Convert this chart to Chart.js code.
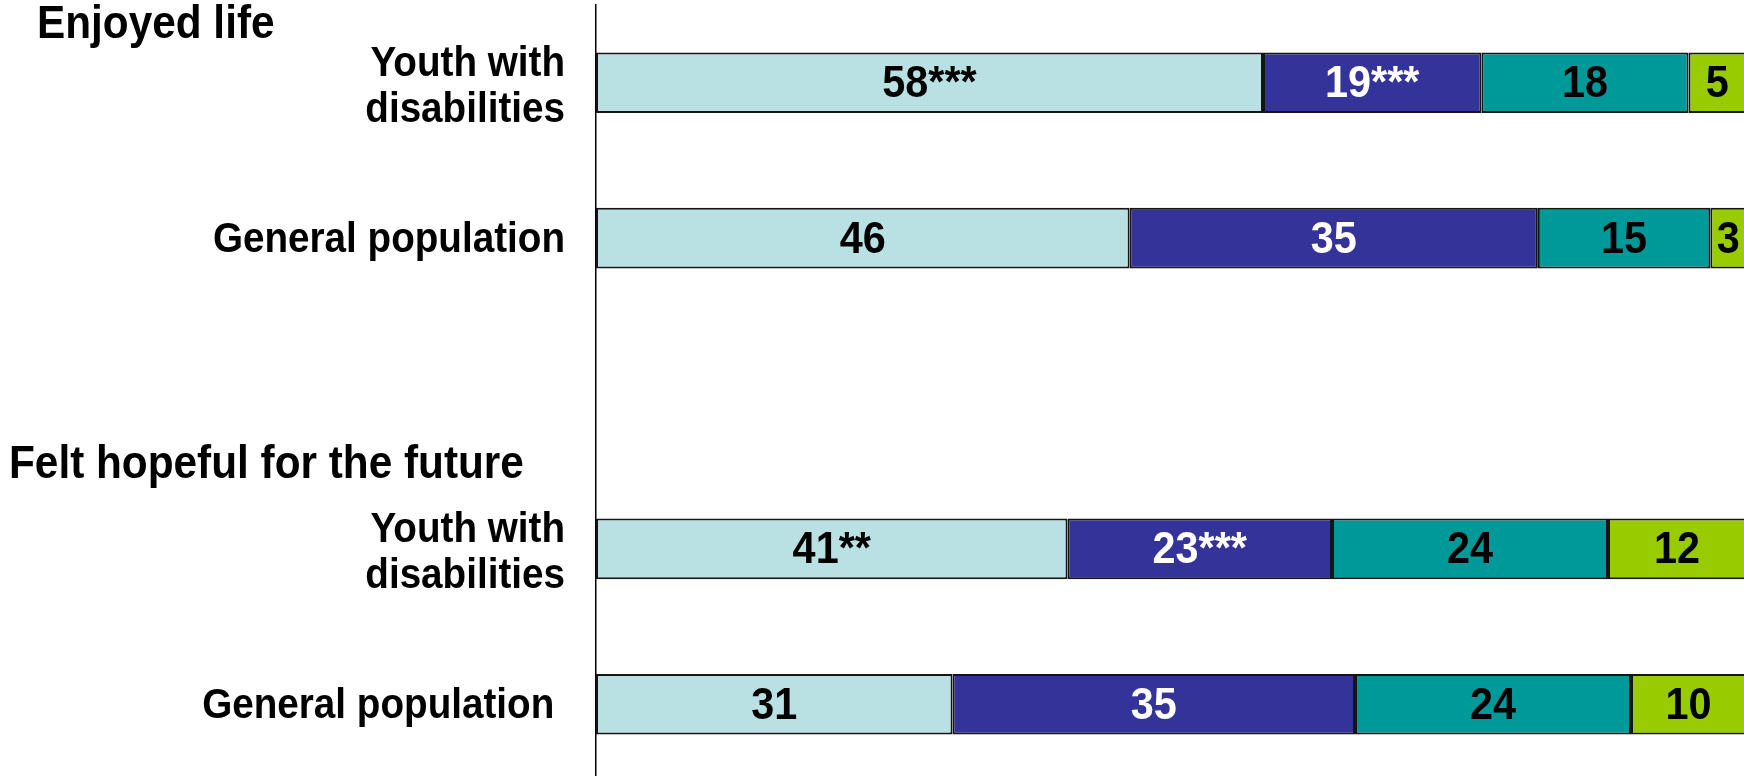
<!DOCTYPE html>
<html>
<head>
<meta charset="utf-8">
<script src="https://cdn.jsdelivr.net/npm/chart.js@4/dist/chart.umd.min.js"></script>
<style>
  html, body { margin: 0; padding: 0; background: #fff; overflow: hidden; }
  #wrap { width: 1752px; height: 782px; position: relative; }
</style>
</head>
<body>
<div id="wrap"><canvas id="feelings"></canvas></div>
<script>
//--------------------------------------------- data
const categories = [
  ['Youth with', 'disabilities'],
  'General population',
  '',
  ['Youth with', 'disabilities'],
  'General population '
];
const groupTitles = ['Enjoyed life', 'Felt hopeful for the future'];

const seriesNames = ['Most of the time', 'Some of the time', 'Rarely', 'Never'];
const mostValues = [58, 46.4, null, 41, 31];
const someValues = [19, 35.5, null, 23, 35];
const rarelyValues = [18, 15, null, 24, 24];
const neverValues = [5, 3.1, null, 12, 10];

// printed labels (rounded, with significance stars)
const mostLabels = ['58***', '46', '', '41**', '31'];
const someLabels = ['19***', '35', '', '23***', '35'];
const rarelyLabels = ['18', '15', '', '24', '24'];
const neverLabels = ['5', '3', '', '12', '10'];

const fillColors = ['#B9E0E3', '#343399', '#009999', '#99CC00'];
const textColors = ['#000', '#fff', '#000', '#000'];
const FONT = "'Liberation Sans', Arial, sans-serif";
const SQUEEZE = 0.92; // the original text is a bit narrow

// draw text slightly condensed
function narrowText(ctx, txt, x, y) {
  ctx.save();
  ctx.translate(x, y);
  ctx.scale(SQUEEZE, 1);
  ctx.fillText(txt, 0, 0);
  ctx.restore();
}

//--------------------------------------------- plugins
const barLabels = {
  id: 'barLabels',
  afterDatasetsDraw(chart) {
    const ctx = chart.ctx;
    const all = [mostLabels, someLabels, rarelyLabels, neverLabels];
    ctx.save();
    ctx.font = 'bold 45px ' + FONT;
    ctx.textAlign = 'center';
    ctx.textBaseline = 'middle';
    chart.data.datasets.forEach((ds, i) => {
      chart.getDatasetMeta(i).data.forEach((el, j) => {
        const txt = all[i][j];
        if (!txt) return;
        ctx.fillStyle = textColors[i];
        narrowText(ctx, txt, (el.x + el.base) / 2, el.y + 2);
      });
    });
    ctx.restore();
  }
};

const sideLabels = {
  id: 'sideLabels',
  afterDraw(chart) {
    const ctx = chart.ctx;
    const y = chart.scales.y;
    ctx.save();
    ctx.fillStyle = '#000';
    ctx.textBaseline = 'middle';
    // category names
    ctx.font = 'bold 42px ' + FONT;
    ctx.textAlign = 'right';
    categories.forEach((lab, i) => {
      const lines = Array.isArray(lab) ? lab : [lab];
      const yc = y.getPixelForValue(i) + (lines.length > 1 ? 5 : 2);
      lines.forEach((ln, k) => {
        narrowText(ctx, ln, y.right - 31, yc + (k - (lines.length - 1) / 2) * 46);
      });
    });
    // group headers
    ctx.font = 'bold 46px ' + FONT;
    ctx.textAlign = 'left';
    narrowText(ctx, groupTitles[0], 37, y.getPixelForValue(0) - 57);
    narrowText(ctx, groupTitles[1], 9, y.getPixelForValue(3) - 84);
    ctx.restore();
  }
};

//--------------------------------------------- chart
const dataFeelings = {
  labels: categories,
  datasets: [mostValues, someValues, rarelyValues, neverValues].map((vals, i) => ({
    label: seriesNames[i],
    data: vals,
    backgroundColor: fillColors[i],
    borderColor: '#151515',
    borderWidth: 2,
    borderSkipped: false,
    categoryPercentage: 1,
    barPercentage: 0.39
  }))
};

const configFeelings = {
  type: 'bar',
  data: dataFeelings,
  options: {
    indexAxis: 'y',
    responsive: true,
    maintainAspectRatio: false,
    devicePixelRatio: 1,
    animation: false,
    layout: { padding: { top: 5, right: 6, left: 0, bottom: 0 } },
    plugins: { legend: { display: false }, tooltip: { enabled: false } },
    scales: {
      x: { stacked: true, min: 0, max: 100, display: false },
      y: {
        stacked: true,
        grid: { display: false, drawTicks: false },
        border: { display: true, color: '#000', width: 1.5 },
        ticks: { display: false },
        afterFit(scale) {
          scale.width = 596;
          scale.paddingTop = 0;
          scale.paddingBottom = 0;
        }
      }
    }
  },
  plugins: [barLabels, sideLabels]
};

var chartFeelings = new Chart(document.getElementById('feelings'), configFeelings);
</script>
</body>
</html>
